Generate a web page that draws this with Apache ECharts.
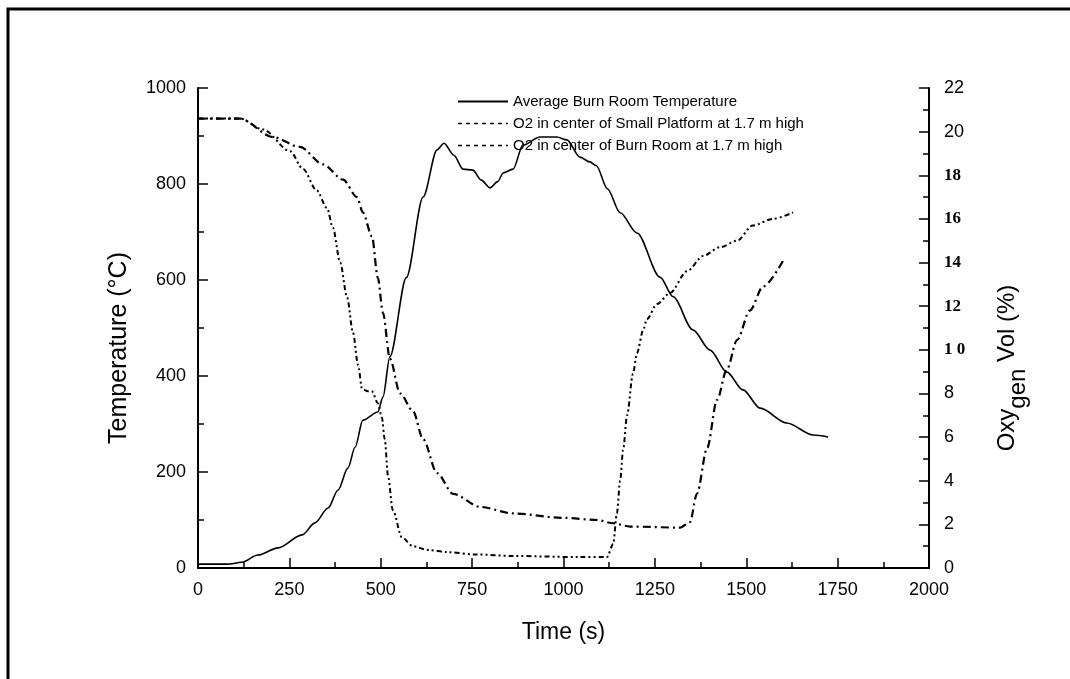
<!DOCTYPE html>
<html>
<head>
<meta charset="utf-8">
<script src="https://cdn.jsdelivr.net/npm/echarts@6/dist/echarts.min.js"></script>
<style>
html,body{margin:0;padding:0;background:#fff;}
#chart{width:1070px;height:679px;}
</style>
</head>
<body>
<div id="chart"></div>
<script>
// ---- Data ----
const seriesNames = [
  'Average Burn Room Temperature',
  'O2 in center of Small Platform at 1.7 m high',
  'O2 in center of Burn Room at 1.7 m high'
];
const tempTime  = [0,82,120,164,219,285,320,356,383,410,430,451,492,506,525,570,616,654,673,700,725,752,775,799,820,835,862,889,936,982,1009,1045,1072,1090,1120,1155,1201,1264,1300,1354,1401,1447,1491,1538,1611,1683,1724];
const tempValue = [8,8,12,27,42,69,94,125,162,208,252,308,325,356,440,605,773,871,885,860,831,829,808,792,805,823,831,881,898,898,892,856,846,838,790,740,698,606,565,496,454,408,371,333,302,277,273];

const o2aTime  = [0,115,178,252,287,325,353,369,389,408,424,438,449,465,476,492,503,511,520,533,558,588,630,681,760,862,1045,1119,1136,1146,1155,1163,1174,1190,1201,1218,1228,1256,1291,1338,1382,1428,1475,1518,1573,1628];
const o2aValue = [20.6,20.6,20.1,19.1,18.3,17.3,16.5,15.6,14.0,12.4,10.8,9.3,8.2,8.1,8.1,7.55,6.9,5.9,4.2,2.65,1.4,1.0,0.82,0.73,0.62,0.55,0.5,0.5,1.1,2.5,4.0,5.4,7.0,8.9,9.85,10.9,11.4,12.1,12.6,13.6,14.3,14.7,15.0,15.7,16.0,16.3];

const o2bTime  = [0,115,205,279,342,397,435,451,476,492,506,525,553,588,616,654,698,772,862,999,1092,1136,1182,1319,1346,1365,1393,1420,1447,1475,1510,1546,1601];
const o2bValue = [20.6,20.6,19.75,19.3,18.5,17.8,17.0,16.3,15.2,13.3,11.7,9.6,8.0,7.2,5.9,4.35,3.4,2.8,2.5,2.3,2.2,2.05,1.9,1.85,2.1,3.4,5.5,7.7,9.1,10.45,11.8,12.9,14.1];

const xTicks = {min:0, max:2000, interval:250};
const tempTicks = {min:0, max:1000, interval:200};
const o2Ticks = {min:0, max:22, interval:2};
const serifLabels = [10,12,14,16,18];

function pairs(xs, ys){ return xs.map((x,i)=>[x, ys[i]]); }

const chart = echarts.init(document.getElementById('chart'), null, {renderer:'canvas'});
const FONT = 'Liberation Sans, Arial, sans-serif';

const axisCommon = {
  axisLine:{show:true, onZero:false, lineStyle:{color:'#000', width:2}},
  axisTick:{show:true, inside:true, length:10, lineStyle:{color:'#000', width:1.5}},
  minorTick:{show:true, splitNumber:2, length:6, lineStyle:{color:'#000', width:1.5}},
  splitLine:{show:false},
  minorSplitLine:{show:false}
};

const option = {
  backgroundColor:'#fff',
  animation:false,
  graphic:[
    {type:'polyline', shape:{points:[[8,679],[8,9],[1070,9]]}, style:{stroke:'#000', lineWidth:3, fill:null}}
  ],
  grid:{left:198, right:141, top:88, bottom:111},
  legend:{
    orient:'vertical', left:452, top:89, itemWidth:50, itemHeight:14, itemGap:7,
    textStyle:{fontFamily:FONT, fontSize:15, color:'#000'},
    itemStyle:{opacity:0, borderWidth:0},
    data:[
      {name:seriesNames[0]},
      {name:seriesNames[1], lineStyle:{type:[4,4], width:1.5}},
      {name:seriesNames[2], lineStyle:{type:[4,4], width:1.5}}
    ]
  },
  xAxis:Object.assign({
    type:'value', min:xTicks.min, max:xTicks.max, interval:xTicks.interval,
    name:'Time (s)', nameLocation:'middle', nameGap:53,
    nameTextStyle:{fontFamily:FONT, fontSize:23, color:'#000'},
    axisLabel:{fontFamily:FONT, fontSize:18, color:'#000', margin:13, formatter:function(v){return String(v);}}
  }, axisCommon),
  yAxis:[
    Object.assign({
      type:'value', position:'left', min:tempTicks.min, max:tempTicks.max, interval:tempTicks.interval,
      name:'Temperature (°C)', nameLocation:'middle', nameGap:66,
      nameTextStyle:{fontFamily:FONT, fontSize:25, color:'#000', padding:[0,40,0,0]},
      axisLabel:{fontFamily:FONT, fontSize:18, color:'#000', margin:12, formatter:function(v){return String(v);}}
    }, axisCommon),
    Object.assign({
      type:'value', position:'right', min:o2Ticks.min, max:o2Ticks.max, interval:o2Ticks.interval,
      name:'{a|Oxy}{b|gen}{a| Vol (%)}', nameLocation:'middle', nameGap:66, nameRotate:90,
      nameTextStyle:{
        color:'#000', padding:[0,80,0,0],
        rich:{
          a:{fontFamily:FONT, fontSize:24, color:'#000', lineHeight:25, verticalAlign:'top'},
          b:{fontFamily:FONT, fontSize:24, color:'#000', lineHeight:25, verticalAlign:'top', padding:[11,0,0,0]}
        }
      },
      axisLabel:{
        margin:15,
        formatter:function(v){
          if(serifLabels.indexOf(v) >= 0) return '{b|' + (v===10 ? '1 0' : v) + '}';
          return '{a|' + v + '}';
        },
        rich:{
          a:{fontFamily:FONT, fontSize:18, color:'#000'},
          b:{fontFamily:'Liberation Serif, Times New Roman, serif', fontWeight:'bold', fontSize:17, color:'#000'}
        }
      }
    }, axisCommon)
  ],
  series:[
    {
      name:seriesNames[0], type:'line', yAxisIndex:0, showSymbol:false, symbol:'none',
      smooth:0.3, smoothMonotone:'x',
      lineStyle:{color:'#000', width:1.6, type:'solid'},
      itemStyle:{color:'#000'},
      data:pairs(tempTime, tempValue)
    },
    {
      name:seriesNames[1], type:'line', yAxisIndex:1, showSymbol:false, symbol:'none',
      smooth:0.3, smoothMonotone:'x',
      lineStyle:{color:'#000', width:2, type:[5,3,2,3,2,3]},
      itemStyle:{color:'#000'},
      data:pairs(o2aTime, o2aValue)
    },
    {
      name:seriesNames[2], type:'line', yAxisIndex:1, showSymbol:false, symbol:'none',
      smooth:0.3, smoothMonotone:'x',
      lineStyle:{color:'#000', width:2.2, type:[8,4,2,4]},
      itemStyle:{color:'#000'},
      data:pairs(o2bTime, o2bValue)
    }
  ]
};
chart.setOption(option);
</script>
</body>
</html>
